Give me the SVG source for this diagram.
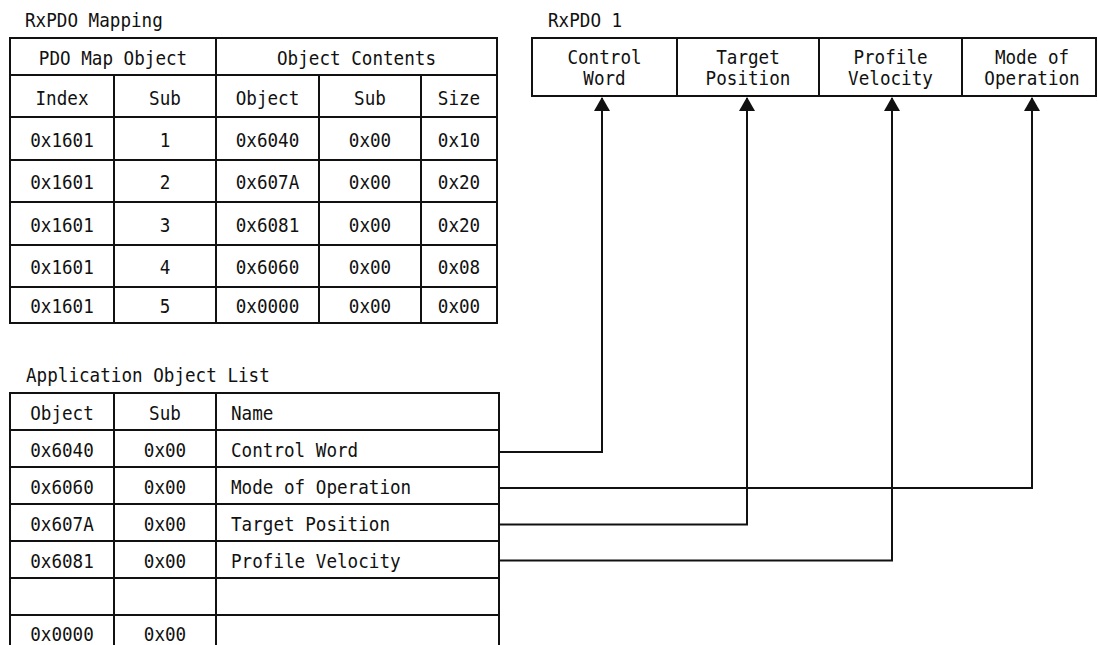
<svg xmlns="http://www.w3.org/2000/svg" width="1098" height="645" viewBox="0 0 1098 645">
<style>
text{font-family:"DejaVu Sans Mono","Liberation Mono",monospace;font-size:19px;fill:#111;}
.c{text-anchor:middle;}
.ln{stroke:#111;stroke-width:2;fill:none;}
.cell{fill:#fff;stroke:#111;stroke-width:2;}
</style>
<defs>
<marker id="ah" markerUnits="userSpaceOnUse" viewBox="0 0 14 16" refX="13" refY="8" markerWidth="14" markerHeight="16" orient="auto">
<path d="M0,0 L14,8 L0,16 Z" fill="#111"/>
</marker>
</defs>
<rect width="1098" height="645" fill="#fff"/>

<g id="rxpdo-mapping">
<text x="25" y="27" textLength="137.8" lengthAdjust="spacingAndGlyphs">RxPDO Mapping</text>
<rect class="cell" x="10" y="38" width="487" height="285"/>
<path class="ln" d="M10,75 H497 M10,117 H497 M10,160 H497 M10,202 H497 M10,245 H497 M10,287 H497 M114,75 V323 M216,38 V323 M319,75 V323 M421,75 V323"/>
<text class="c" x="113" y="64.5" textLength="148.4" lengthAdjust="spacingAndGlyphs">PDO Map Object</text>
<text class="c" x="356.5" y="64.5" textLength="159" lengthAdjust="spacingAndGlyphs">Object Contents</text>
<text class="c" x="62" y="104.5" textLength="53" lengthAdjust="spacingAndGlyphs">Index</text>
<text class="c" x="165" y="104.5" textLength="31.8" lengthAdjust="spacingAndGlyphs">Sub</text>
<text class="c" x="267.5" y="104.5" textLength="63.6" lengthAdjust="spacingAndGlyphs">Object</text>
<text class="c" x="370" y="104.5" textLength="31.8" lengthAdjust="spacingAndGlyphs">Sub</text>
<text class="c" x="459" y="104.5" textLength="42.4" lengthAdjust="spacingAndGlyphs">Size</text>

<text class="c" x="62" y="146.5" textLength="63.6" lengthAdjust="spacingAndGlyphs">0x1601</text>
<text class="c" x="165" y="146.5" textLength="10.6" lengthAdjust="spacingAndGlyphs">1</text>
<text class="c" x="267.5" y="146.5" textLength="63.6" lengthAdjust="spacingAndGlyphs">0x6040</text>
<text class="c" x="370" y="146.5" textLength="42.4" lengthAdjust="spacingAndGlyphs">0x00</text>
<text class="c" x="459" y="146.5" textLength="42.4" lengthAdjust="spacingAndGlyphs">0x10</text>

<text class="c" x="62" y="189" textLength="63.6" lengthAdjust="spacingAndGlyphs">0x1601</text>
<text class="c" x="165" y="189" textLength="10.6" lengthAdjust="spacingAndGlyphs">2</text>
<text class="c" x="267.5" y="189" textLength="63.6" lengthAdjust="spacingAndGlyphs">0x607A</text>
<text class="c" x="370" y="189" textLength="42.4" lengthAdjust="spacingAndGlyphs">0x00</text>
<text class="c" x="459" y="189" textLength="42.4" lengthAdjust="spacingAndGlyphs">0x20</text>

<text class="c" x="62" y="231.5" textLength="63.6" lengthAdjust="spacingAndGlyphs">0x1601</text>
<text class="c" x="165" y="231.5" textLength="10.6" lengthAdjust="spacingAndGlyphs">3</text>
<text class="c" x="267.5" y="231.5" textLength="63.6" lengthAdjust="spacingAndGlyphs">0x6081</text>
<text class="c" x="370" y="231.5" textLength="42.4" lengthAdjust="spacingAndGlyphs">0x00</text>
<text class="c" x="459" y="231.5" textLength="42.4" lengthAdjust="spacingAndGlyphs">0x20</text>

<text class="c" x="62" y="274" textLength="63.6" lengthAdjust="spacingAndGlyphs">0x1601</text>
<text class="c" x="165" y="274" textLength="10.6" lengthAdjust="spacingAndGlyphs">4</text>
<text class="c" x="267.5" y="274" textLength="63.6" lengthAdjust="spacingAndGlyphs">0x6060</text>
<text class="c" x="370" y="274" textLength="42.4" lengthAdjust="spacingAndGlyphs">0x00</text>
<text class="c" x="459" y="274" textLength="42.4" lengthAdjust="spacingAndGlyphs">0x08</text>

<text class="c" x="62" y="313" textLength="63.6" lengthAdjust="spacingAndGlyphs">0x1601</text>
<text class="c" x="165" y="313" textLength="10.6" lengthAdjust="spacingAndGlyphs">5</text>
<text class="c" x="267.5" y="313" textLength="63.6" lengthAdjust="spacingAndGlyphs">0x0000</text>
<text class="c" x="370" y="313" textLength="42.4" lengthAdjust="spacingAndGlyphs">0x00</text>
<text class="c" x="459" y="313" textLength="42.4" lengthAdjust="spacingAndGlyphs">0x00</text>
</g>

<g id="rxpdo1">
<text x="548" y="27" textLength="74.2" lengthAdjust="spacingAndGlyphs">RxPDO 1</text>
<g id="rx-control-word">
<rect class="cell" x="532" y="38" width="145" height="58"/>
<text class="c" x="604.5" y="64" textLength="74.2" lengthAdjust="spacingAndGlyphs">Control</text>
<text class="c" x="604.5" y="85" textLength="42.4" lengthAdjust="spacingAndGlyphs">Word</text>
</g>
<g id="rx-target-position">
<rect class="cell" x="677" y="38" width="142" height="58"/>
<text class="c" x="748" y="64" textLength="63.6" lengthAdjust="spacingAndGlyphs">Target</text>
<text class="c" x="748" y="85" textLength="84.8" lengthAdjust="spacingAndGlyphs">Position</text>
</g>
<g id="rx-profile-velocity">
<rect class="cell" x="819" y="38" width="143" height="58"/>
<text class="c" x="890.5" y="64" textLength="74.2" lengthAdjust="spacingAndGlyphs">Profile</text>
<text class="c" x="890.5" y="85" textLength="84.8" lengthAdjust="spacingAndGlyphs">Velocity</text>
</g>
<g id="rx-mode-of-operation">
<rect class="cell" x="962" y="38" width="134" height="58"/>
<text class="c" x="1032" y="64" textLength="74.2" lengthAdjust="spacingAndGlyphs">Mode of</text>
<text class="c" x="1032" y="85" textLength="95.4" lengthAdjust="spacingAndGlyphs">Operation</text>
</g>
</g>

<g id="application-object-list">
<text x="26" y="382" textLength="243.8" lengthAdjust="spacingAndGlyphs">Application Object List</text>
<rect class="cell" x="10" y="393" width="489" height="262"/>
<path class="ln" d="M10,430 H499 M10,467 H499 M10,504 H499 M10,541 H499 M10,578 H499 M10,615 H499 M114,393 V655 M216,393 V655"/>
<text class="c" x="62" y="419.5" textLength="63.6" lengthAdjust="spacingAndGlyphs">Object</text>
<text class="c" x="165" y="419.5" textLength="31.8" lengthAdjust="spacingAndGlyphs">Sub</text>
<text x="231" y="419.5" textLength="42.4" lengthAdjust="spacingAndGlyphs">Name</text>

<text class="c" x="62" y="456.5" textLength="63.6" lengthAdjust="spacingAndGlyphs">0x6040</text>
<text class="c" x="165" y="456.5" textLength="42.4" lengthAdjust="spacingAndGlyphs">0x00</text>
<text x="231" y="456.5" textLength="127.2" lengthAdjust="spacingAndGlyphs">Control Word</text>

<text class="c" x="62" y="493.5" textLength="63.6" lengthAdjust="spacingAndGlyphs">0x6060</text>
<text class="c" x="165" y="493.5" textLength="42.4" lengthAdjust="spacingAndGlyphs">0x00</text>
<text x="231" y="493.5" textLength="180.2" lengthAdjust="spacingAndGlyphs">Mode of Operation</text>

<text class="c" x="62" y="530.5" textLength="63.6" lengthAdjust="spacingAndGlyphs">0x607A</text>
<text class="c" x="165" y="530.5" textLength="42.4" lengthAdjust="spacingAndGlyphs">0x00</text>
<text x="231" y="530.5" textLength="159" lengthAdjust="spacingAndGlyphs">Target Position</text>

<text class="c" x="62" y="567.5" textLength="63.6" lengthAdjust="spacingAndGlyphs">0x6081</text>
<text class="c" x="165" y="567.5" textLength="42.4" lengthAdjust="spacingAndGlyphs">0x00</text>
<text x="231" y="567.5" textLength="169.6" lengthAdjust="spacingAndGlyphs">Profile Velocity</text>

<text class="c" x="62" y="641" textLength="63.6" lengthAdjust="spacingAndGlyphs">0x0000</text>
<text class="c" x="165" y="641" textLength="42.4" lengthAdjust="spacingAndGlyphs">0x00</text>
</g>

<g id="connectors">
<path class="ln" d="M499,452 H602 V98" marker-end="url(#ah)"/>
<path class="ln" d="M499,488 H1032 V98" marker-end="url(#ah)"/>
<path class="ln" d="M499,524.5 H747 V98" marker-end="url(#ah)"/>
<path class="ln" d="M499,560.5 H892 V98" marker-end="url(#ah)"/>
</g>
</svg>
